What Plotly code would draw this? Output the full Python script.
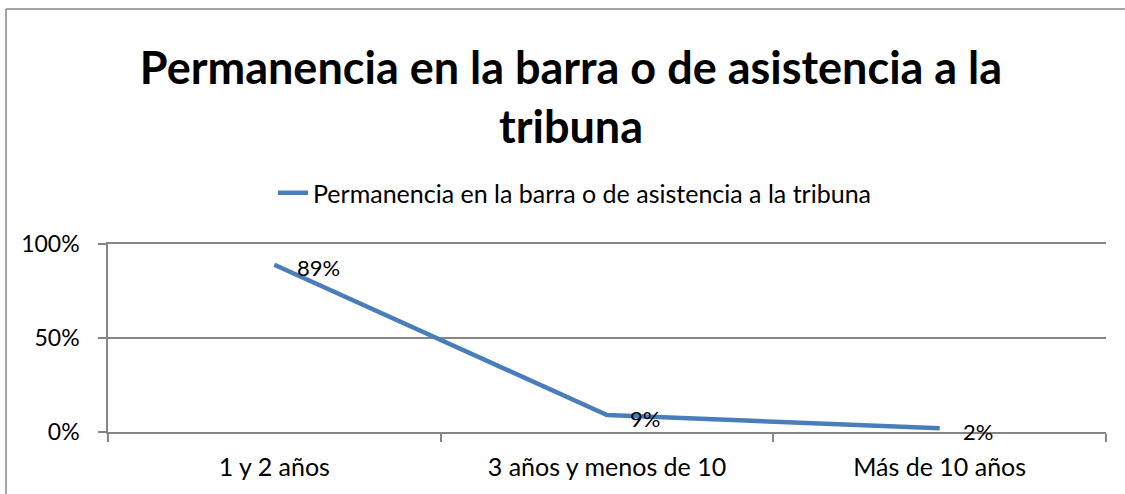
import plotly.graph_objects as go

categories = ["1 y 2 años", "3 años y menos de 10", "Más de 10 años"]
values = [0.89, 0.09, 0.02]
labels = ["89%", "9%", "2%"]
series_name = "Permanencia en la barra o de asistencia a la tribuna"
title_text = "Permanencia en la barra o de asistencia a la<br>tribuna"
y_ticks = [0, 0.5, 1.0]
y_ticklabels = ["0%", "50%", "100%"]

FONT = "Lato"
W, H = 1125, 494
L, R, T, B = 108, 19, 244, 62
ph = H - T - B
pw = W - L - R
GRAY = "#868686"

fig = go.Figure()
fig.add_trace(go.Scatter(
    x=categories, y=values, mode="lines", name=series_name,
    line=dict(color="#4A7EBB", width=4.5),
))
for c, v, t in zip(categories, values, labels):
    fig.add_annotation(x=c, y=v, text=t, showarrow=False, xanchor="left",
                       xshift=21, yshift=-3, font=dict(family=FONT, size=22, color="black"))

# chart-area border (left and top edges visible in the reference)
bx0 = (6 - L) / pw
by1 = (H - B - 9) / ph
fig.add_shape(type="line", xref="paper", yref="paper", x0=bx0, x1=bx0, y0=-0.8, y1=by1,
              line=dict(color="#878787", width=1.5), layer="below")
fig.add_shape(type="line", xref="paper", yref="paper", x0=bx0, x1=1.3, y0=by1, y1=by1,
              line=dict(color="#878787", width=1.5), layer="below")

fig.update_layout(
    width=W, height=H,
    margin=dict(l=L, r=R, t=T, b=B, autoexpand=False),
    paper_bgcolor="white", plot_bgcolor="white",
    font=dict(family=FONT, color="black", size=22),
    title=dict(text=title_text, x=571 / W, xanchor="center", y=1 - 84 / H, yanchor="middle",
               font=dict(family=FONT, size=45, color="black", weight="bold")),
    showlegend=True,
    legend=dict(orientation="h", x=(575 - L) / pw, xanchor="center", y=(H - B - 193) / ph, yanchor="middle",
                font=dict(family=FONT, size=25), bgcolor="rgba(0,0,0,0)"),
    xaxis=dict(type="category", range=[-0.5, 2.5], showgrid=False, showline=True, mirror=True,
               linecolor=GRAY, linewidth=1.5,
               ticks="outside", tickson="boundaries", ticklen=8, tickcolor=GRAY, tickwidth=1.5,
               ticklabelstandoff=12,
               tickfont=dict(family=FONT, size=25), zeroline=False, fixedrange=True),
    yaxis=dict(range=[0, 1], tickvals=y_ticks, ticktext=y_ticklabels, showgrid=True,
               gridcolor=GRAY, gridwidth=1.5, showline=True, linecolor=GRAY, linewidth=1.5,
               ticks="outside", ticklen=8, tickcolor=GRAY, tickwidth=1.5,
               ticklabelstandoff=14,
               tickfont=dict(family=FONT, size=23), zeroline=False, fixedrange=True),
)
fig.write_html("out.html", config={"displayModeBar": False},
               post_script="document.body.style.margin='0';")
